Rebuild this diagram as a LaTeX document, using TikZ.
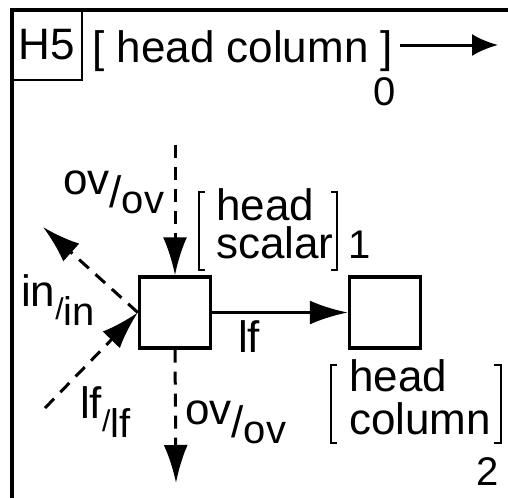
\documentclass[tikz,border=0pt]{standalone}
\usepackage{fontspec}
\setmainfont{Liberation Sans}
\usepackage{tikz}
\usetikzlibrary{arrows.meta,calc}
% numerator raised, slash and denominator at smaller size
\newcommand{\slfrac}[3][44]{\raisebox{19pt}{#2}{\fontsize{#1}{#1}\selectfont\raisebox{6pt}{/}}{\fontsize{40}{40}\selectfont #3}}

\begin{document}
\begin{tikzpicture}[
      x=1pt,y=-1pt,
      every node/.style={font=\fontsize{44}{38}\selectfont},
      cell/.style={rectangle,draw,line width=3.4pt,minimum size=71pt,inner sep=0pt},
      avm/.style={align=left,inner sep=0pt,anchor=north west},
      tag/.style={inner sep=0pt,font=\fontsize{40}{40}\selectfont},
      lbl/.style={inner sep=0pt,anchor=base west},
      brk/.style={line width=1.8pt},
      arr/.style={-{Latex[length=38pt,width=24pt]},line width=3pt},
      dsh/.style={arr,dash pattern=on 13pt off 9pt},
    ]
    \useasboundingbox (0,0) rectangle (508,498);

    % Frame and header
    \draw[line width=3.4pt] (12,498) -- (12,10) -- (508,10);
    \node[draw,line width=2.2pt,minimum size=70pt,inner sep=0pt] (h5) at (47,45) {H5};
    \node[lbl] (hd0) at (92,62) {[ head column ]};
    \node[tag,anchor=base] (t0) at (385,105) {0};
    \coordinate (out0) at (498,45);
    \draw[-{Latex[length=26pt,width=22pt]},line width=3pt,shorten <=7pt] (hd0.east |- out0) -- (out0);

    % Node layout
    \node[cell] (hs) at (175,312.5) {};
    \node[cell] (hc) at (385,312.5) {};
    \node[avm] (hsv) at (216,188) {head\\scalar};
    \node[avm,font=\fontsize{44}{43}\selectfont] (hcv) at (349,359) {head\\column};
    \node[tag,anchor=base west] (t1) at (348,258) {1};
    \node[tag,anchor=base east] (t2) at (499,485) {2};

    % Brackets
    \draw[brk] ([xshift=-11pt,yshift=-4pt]hsv.north west) -| ([xshift=-17pt,yshift=-82pt]hsv.north west) -- ++(6,0);
    \draw[brk] ([xshift=-3pt,yshift=-4pt]hsv.north east) -| ([xshift=3pt,yshift=-82pt]hsv.north east) -- ++(-6,0);
    \draw[brk] ([xshift=-12pt,yshift=-6pt]hcv.north west) -| ([xshift=-18pt,yshift=-84pt]hcv.north west) -- ++(6,0);
    \draw[brk] ([xshift=3pt,yshift=-6pt]hcv.north east) -| ([xshift=10pt,yshift=-84pt]hcv.north east) -- ++(-7,0);

    % Free ends
    \coordinate (ovin) at (175,145);
    \coordinate (ovout) at (176,483);
    \coordinate (inout) at (43,227);
    \coordinate (lfin) at (45,408);

    % Arrow connections
    \draw[dsh] (ovin) -- (hs.north);
    \draw[dsh] (hs.south) -- (ovout);
    \draw[dsh] (hs.west) -- (inout);
    \draw[dsh] (lfin) -- (hs.west);
    \draw[arr] (hs) -- (hc);

    % Labels
    \node[lbl] (ovt) at (63,213) {\slfrac{ov}{ov}};
    \node[lbl] (inl) at (21,325) {\slfrac[30]{in}{in}};
    \node[lbl] (lfl) at (80,437) {\slfrac[30]{lf}{lf}};
    \node[lbl] (ovb) at (185,443) {\slfrac{ov}{ov}};
    \node[lbl] (lf) at (238,352) {lf};

  \end{tikzpicture}
\end{document}
